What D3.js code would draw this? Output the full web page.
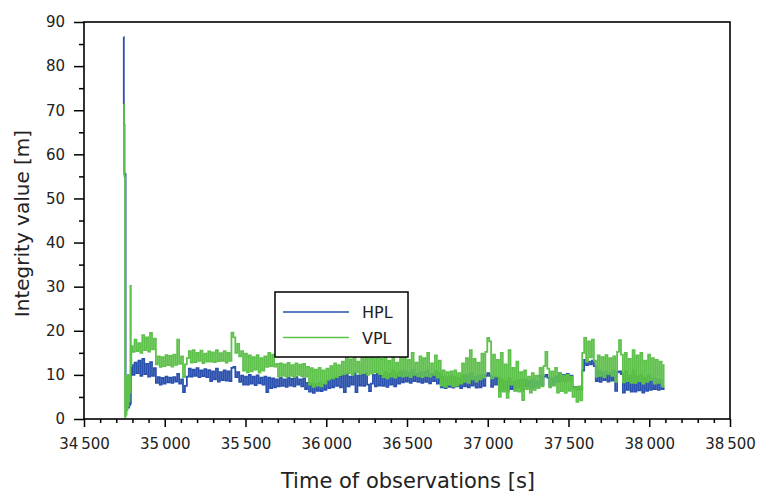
<!DOCTYPE html>
<html>
<head>
<meta charset="utf-8">
<script src="https://cdn.jsdelivr.net/npm/d3@7"></script>
<style>
  html, body { margin: 0; padding: 0; background: #fff; }
  text { font-family: "DejaVu Sans", sans-serif; }
</style>
</head>
<body>
<div id="chart"></div>
<script>
// --- datos ---
const xTicks = [34500, 35000, 35500, 36000, 36500, 37000, 37500, 38000, 38500];
const yTicks = [0, 10, 20, 30, 40, 50, 60, 70, 80, 90];
const seriesNames = ["HPL", "VPL"];

// primeros segundos (pico inicial), tiempos explícitos
const headTime = [34746, 34747, 34749, 34752, 34756, 34759, 34762, 34765, 34768, 34771, 34774, 34777, 34780, 34783, 34786, 34789, 34791];
const headHPL  = [86.6, 71.5, 66.8, 55.5, 55.5, 3.2, 4.5, 2.8, 5.0, 3.0, 4.8, 2.6, 5.2, 3.1, 4.6, 3.5, 11.0];
const headVPL  = [71.4, 71.4, 56.0, 55.0, 0.5, 8.0, 1.0, 9.5, 2.0, 10.0, 3.0, 9.0, 4.0, 10.0, 6.0, 30.2, 12.0];

// resto: una muestra cada 12 s desde 34795 s
const mainStart = 34795, mainStep = 12;
const mainHPL = [
  12.2,10.0,12.8,10.4,13.2,9.8,13.6,10.2,12.5,9.6,
  12.9,9.8,11.5,8.2,9.5,7.8,9.3,8.0,9.6,8.3,
  9.4,8.2,9.5,8.5,10.2,8.0,9.0,6.1,7.5,9.6,
  11.4,9.6,11.2,9.8,11.5,9.5,11.0,9.7,11.3,9.5,
  11.1,8.6,10.8,9.0,11.4,8.5,10.6,8.8,11.0,8.7,
  10.8,8.6,11.6,11.8,9.5,10.6,8.4,9.8,7.8,9.6,
  7.8,10.0,8.0,9.6,7.7,9.9,8.1,9.4,7.8,9.6,
  6.1,9.4,7.0,9.2,7.2,9.0,7.4,9.3,7.5,9.0,
  7.3,9.4,7.6,9.1,7.4,9.5,7.8,9.0,7.4,9.2,
  6.8,8.2,6.2,8.0,5.9,7.9,6.4,8.1,6.3,7.8,
  6.6,8.6,7.0,9.0,7.2,9.4,7.5,9.6,7.2,10.0,
  6.1,10.2,7.4,9.6,7.8,10.4,6.1,9.8,7.6,10.0,
  7.5,10.4,7.8,6.3,8.0,10.0,7.4,10.2,7.6,9.8,
  7.5,10.6,7.3,10.2,7.8,11.0,7.4,10.4,8.0,10.8,
  8.3,10.8,8.5,10.4,8.2,11.0,8.6,10.2,8.4,10.6,
  8.2,10.6,8.4,11.0,8.1,10.2,8.6,10.8,8.0,10.4,
  7.2,9.6,7.0,9.4,7.3,9.8,7.1,9.5,7.4,9.2,
  7.0,9.8,7.4,10.0,7.2,10.4,7.6,9.6,7.1,9.8,
  7.2,10.0,7.5,9.8,10.4,9.8,7.3,9.6,7.8,9.4,
  6.4,9.0,6.6,8.6,6.2,9.2,6.8,8.4,6.5,8.8,
  7.2,8.8,6.4,9.0,7.4,8.6,7.0,8.9,7.3,8.5,
  7.6,9.8,7.8,9.6,10.0,9.4,7.5,9.2,7.8,9.6,
  8.4,10.4,8.6,10.0,8.5,10.2,8.8,9.8,7.0,7.3,
  6.6,7.2,6.7,11.0,13.4,12.2,13.0,12.4,13.2,12.0,
  8.6,11.0,8.4,10.6,8.8,10.8,8.5,10.4,8.7,10.9,
  6.4,10.6,10.8,10.2,6.0,10.8,6.6,9.8,6.2,11.0,
  6.2,9.6,6.5,10.0,6.0,9.4,6.4,9.8,6.6,9.2,
  6.8,9.0,6.6,8.8,6.8,7.0
];
const mainVPL = [
  16.5,15.2,18.0,15.4,17.2,15.0,19.0,15.6,18.5,15.3,
  19.5,15.8,18.2,12.4,14.2,11.8,14.0,12.0,14.5,12.2,
  14.3,11.9,14.6,12.3,18.0,12.5,14.2,9.5,12.4,13.8,
  15.4,12.8,15.6,12.9,15.0,13.2,15.5,12.7,14.8,13.0,
  15.3,13.0,15.1,12.9,15.6,13.1,14.9,13.2,15.4,12.8,
  15.0,13.2,19.6,18.5,15.0,17.0,14.2,15.4,11.0,14.8,
  10.6,14.4,10.8,14.0,11.2,14.5,10.5,13.8,11.0,14.2,
  11.8,15.0,12.0,14.6,11.9,12.5,9.6,12.6,9.8,12.4,
  9.6,12.7,9.8,12.2,9.5,12.6,10.0,12.3,9.7,12.5,
  9.6,11.8,7.8,11.5,7.3,11.2,7.6,11.6,7.4,11.0,
  8.0,11.4,9.0,12.0,9.2,12.6,9.5,12.2,10.0,13.0,
  10.2,14.8,10.4,13.5,10.0,15.2,10.6,13.0,10.2,14.6,
  10.4,14.5,10.0,15.0,10.3,13.8,10.6,14.8,10.2,13.6,
  9.5,14.8,9.2,13.2,9.6,15.0,9.4,12.8,9.8,14.4,
  9.6,14.6,9.8,13.4,9.5,15.0,10.0,12.8,9.7,14.2,
  9.5,13.8,9.8,15.0,9.6,12.6,10.0,14.4,9.4,13.2,
  7.6,11.0,7.3,10.6,7.8,10.8,7.4,11.0,7.6,10.4,
  8.0,12.6,8.4,13.8,8.2,15.6,9.0,13.6,8.5,12.8,
  9.0,14.8,9.4,15.2,18.4,17.6,9.2,14.6,9.6,13.4,
  5.0,15.0,6.2,12.4,4.8,15.6,7.8,11.6,6.4,13.0,
  6.2,10.6,4.3,11.0,6.8,9.6,6.0,10.4,6.6,9.8,
  7.0,11.6,7.4,12.0,15.2,11.4,7.2,10.8,7.6,11.6,
  6.0,10.4,6.3,9.8,5.9,10.0,6.4,9.6,5.0,7.2,
  3.9,7.4,4.2,15.0,18.4,13.0,17.6,14.0,18.0,13.2,
  9.6,14.4,9.8,14.0,9.5,14.5,10.2,13.8,9.8,14.2,
  8.4,15.2,17.9,14.6,8.3,15.0,8.6,13.6,8.2,15.6,
  8.2,14.4,8.6,15.0,8.0,13.2,8.4,14.6,8.8,13.8,
  8.0,13.4,8.2,13.0,7.4,12.2
];

const colors = { HPL: "#2a51ad", VPL: "#5ec14b" };

// --- configuración ---
const width = 759, height = 494;
const plot = { left: 84, right: 730, top: 22, bottom: 419 };

const times = headTime.concat(mainHPL.map((d, i) => mainStart + mainStep * i));
const series = {
  HPL: headHPL.concat(mainHPL),
  VPL: headVPL.concat(mainVPL)
};

const x = d3.scaleLinear().domain([34500, 38500]).range([plot.left, plot.right]);
const y = d3.scaleLinear().domain([0, 90]).range([plot.bottom, plot.top]);

const fmt = d3.formatLocale({ decimal: ".", thousands: "\u2009", grouping: [3], currency: ["", ""] }).format(",d");

const svg = d3.select("#chart").append("svg")
  .attr("width", width)
  .attr("height", height);

// fondo
svg.append("rect").attr("width", width).attr("height", height).attr("fill", "#fff");

// --- líneas (datos muestreados: escalones) ---
const line = d3.line()
  .x((d, i) => x(times[i]))
  .y(d => y(d))
  .curve(d3.curveStep);

seriesNames.forEach(name => {
  svg.append("path")
    .datum(series[name])
    .attr("fill", "none")
    .attr("stroke", colors[name])
    .attr("stroke-width", 1.8)
    .attr("d", line);
});

// --- ejes ---
const xMinor = d3.range(34500, 38501, 100).filter(v => v % 500 !== 0);
const yMinor = d3.range(5, 90, 10);

svg.append("g")
  .attr("transform", `translate(0,${plot.bottom})`)
  .call(d3.axisBottom(x).tickValues(xMinor).tickSize(4).tickFormat(""))
  .call(g => g.select(".domain").remove());

svg.append("g")
  .attr("class", "x-axis")
  .attr("transform", `translate(0,${plot.bottom})`)
  .call(d3.axisBottom(x).tickValues(xTicks).tickSize(8).tickPadding(11).tickFormat(fmt))
  .call(g => g.select(".domain").remove());

svg.append("g")
  .attr("transform", `translate(${plot.left},0)`)
  .call(d3.axisLeft(y).tickValues(yMinor).tickSize(5).tickFormat(""))
  .call(g => g.select(".domain").remove());

svg.append("g")
  .attr("class", "y-axis")
  .attr("transform", `translate(${plot.left},0)`)
  .call(d3.axisLeft(y).tickValues(yTicks).tickSize(10).tickPadding(9))
  .call(g => g.select(".domain").remove());

svg.selectAll(".tick line").attr("stroke", "#000").attr("stroke-width", 1.5);
svg.selectAll(".x-axis text, .y-axis text")
  .attr("fill", "#222")
  .style("font-size", "15px")
  .style("font-family", "'DejaVu Sans', sans-serif");

// marco
svg.append("rect")
  .attr("x", plot.left)
  .attr("y", plot.top)
  .attr("width", plot.right - plot.left)
  .attr("height", plot.bottom - plot.top)
  .attr("fill", "none")
  .attr("stroke", "#000")
  .attr("stroke-width", 1.6);

// títulos de ejes
svg.append("text")
  .attr("x", (plot.left + plot.right) / 2 + 1)
  .attr("y", 488)
  .attr("text-anchor", "middle")
  .attr("fill", "#222")
  .style("font-size", "21px")
  .text("Time of observations [s]");

svg.append("text")
  .attr("transform", `translate(29,${(plot.top + plot.bottom) / 2 + 3}) rotate(-90)`)
  .attr("text-anchor", "middle")
  .attr("fill", "#222")
  .style("font-size", "20px")
  .text("Integrity value [m]");

// --- leyenda ---
const legend = svg.append("g").attr("transform", "translate(275,292)");
legend.append("rect")
  .attr("width", 133)
  .attr("height", 65)
  .attr("fill", "#fff")
  .attr("stroke", "#000")
  .attr("stroke-width", 1.5);

seriesNames.forEach((name, i) => {
  const ly = 20 + i * 25.5;
  legend.append("line")
    .attr("x1", 8).attr("x2", 74)
    .attr("y1", ly).attr("y2", ly)
    .attr("stroke", colors[name])
    .attr("stroke-width", 1.5);
  legend.append("text")
    .attr("x", 87)
    .attr("y", ly + 6)
    .attr("fill", "#222")
    .style("font-size", "16px")
    .text(name);
});
</script>
</body>
</html>
